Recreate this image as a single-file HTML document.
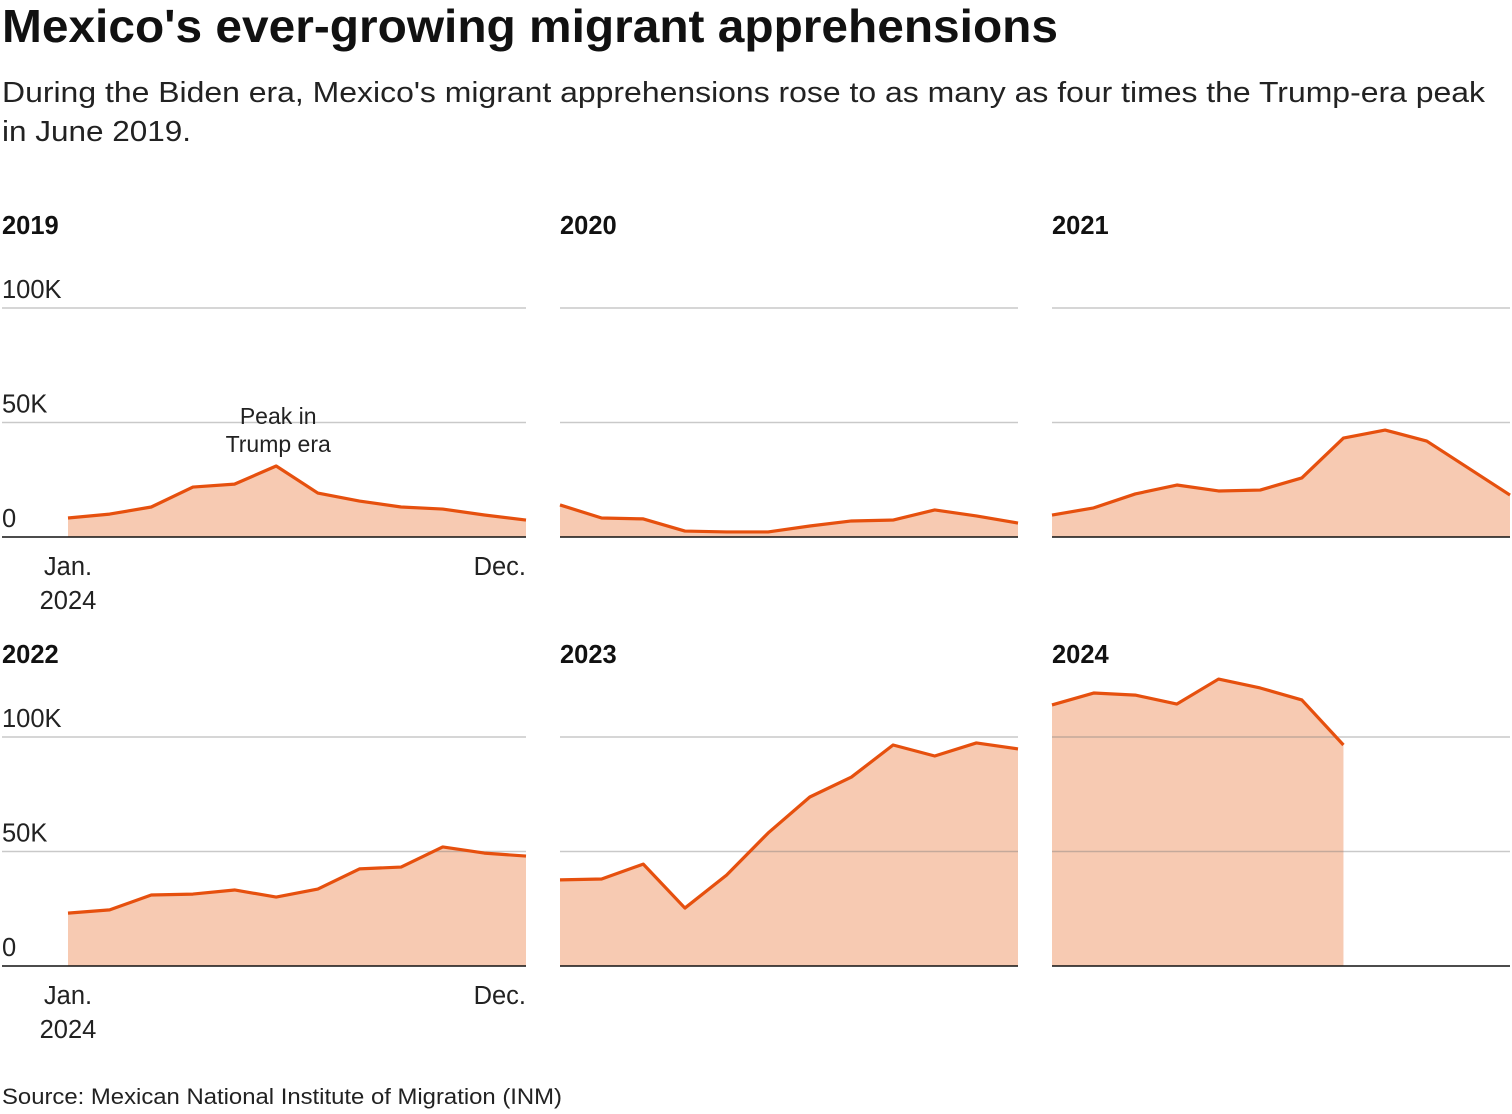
<!DOCTYPE html>
<html><head><meta charset="utf-8"><style>
html,body{margin:0;padding:0;background:#fff;width:1512px;height:1114px;overflow:hidden;font-family:"Liberation Sans",Arial,sans-serif;color:#111}
svg text{font-family:"Liberation Sans",Arial,sans-serif}
</style></head><body>
<svg id="chart" width="1512" height="1114" viewBox="0 0 1512 1114" xmlns="http://www.w3.org/2000/svg">
<text x="2" y="42" font-size="46" font-weight="bold" fill="#111" textLength="1056" lengthAdjust="spacingAndGlyphs">Mexico's ever-growing migrant apprehensions</text>
<text x="2" y="102" font-size="29" fill="#222" textLength="1483" lengthAdjust="spacingAndGlyphs">During the Biden era, Mexico's migrant apprehensions rose to as many as four times the Trump-era peak</text>
<text x="2" y="141" font-size="29" fill="#222" textLength="189" lengthAdjust="spacingAndGlyphs">in June 2019.</text>
<text x="2" y="1104" font-size="22.5" fill="#222" textLength="560" lengthAdjust="spacingAndGlyphs">Source: Mexican National Institute of Migration (INM)</text>
<g id="panels"></g>
</svg>
<script>
const years = ["2019","2020","2021","2022","2023","2024"];
const v2019 = [8.3,10,13.1,21.8,23.1,31,19.2,15.7,13.1,12.2,9.6,7.4];
const v2020 = [14,8.3,7.9,2.6,2.2,2.2,4.8,7,7.4,11.8,9.2,6.1];
const v2021 = [9.6,12.7,18.8,22.7,20.1,20.5,25.8,43.2,46.7,41.9,30.1,18.3];
const v2022 = [23.1,24.5,31,31.4,33.2,30.1,33.6,42.4,43.2,52,49.3,48];
const v2023 = [37.6,38,44.5,25.3,39.7,58.1,73.8,82.5,96.5,91.7,97.4,94.8];
const v2024 = [114,119.2,118.3,114.4,125.3,121.4,116.2,96.5];
const yTicks = [0,50,100];
const yTickLabels = ["0","50K","100K"];
const seriesList = [v2019,v2020,v2021,v2022,v2023,v2024];

const NS="http://www.w3.org/2000/svg";
const root=document.getElementById('panels');
function mk(tag,attrs,parent){const e=document.createElementNS(NS,tag);for(const k in attrs)e.setAttribute(k,attrs[k]);parent.appendChild(e);return e;}
const layout=[
 {gx0:2,dx0:68,dx1:526,base:537,ty:225,axis:true},
 {gx0:560,dx0:560,dx1:1018,base:537,ty:225},
 {gx0:1052,dx0:1052,dx1:1510,base:537,ty:225},
 {gx0:2,dx0:68,dx1:526,base:966,ty:654,axis:true},
 {gx0:560,dx0:560,dx1:1018,base:966,ty:654},
 {gx0:1052,dx0:1052,dx1:1510,base:966,ty:654}
];
layout.forEach((L,i)=>{
  const g=mk('g',{},root);
  
  
  const xS=m=>L.dx0+(L.dx1-L.dx0)*m/11;
  const yS=v=>L.base-v*229/100;
  const vals=seriesList[i];
  const t=mk('text',{x:L.gx0,y:L.ty+9,'font-size':25.5,'font-weight':'bold',fill:'#111'},g);
  t.textContent=years[i];
  
  
  let d='M'+xS(0)+','+L.base;
  vals.forEach((v,m)=>{d+=' L'+xS(m)+','+yS(v);});
  d+=' L'+xS(vals.length-1)+','+L.base+' Z';
  const a=mk('path',{d:d,fill:'#f7cab2'},g);
  
  
  yTicks.forEach((tv,k)=>{
    if(tv===0)return;
    const gl=mk('line',{x1:L.gx0,x2:L.dx1,y1:yS(tv),y2:yS(tv),stroke:'rgba(120,120,120,0.4)','stroke-width':1.5},g);
    
    
  });
  const bl=mk('line',{x1:L.gx0,x2:L.dx1,y1:L.base,y2:L.base,stroke:'#111','stroke-width':1.5},g);
  
  
  const ln=mk('polyline',{points:vals.map((v,m)=>xS(m)+','+yS(v)).join(' '),fill:'none',stroke:'#e6500e','stroke-width':3.2,'stroke-linejoin':'round'},g);
  
  
  if(L.axis){
    yTicks.forEach((tv,k)=>{
      const tl=mk('text',{x:2,y:yS(tv)-10,'font-size':25.5,fill:'#222'},g);
      tl.textContent=yTickLabels[k];
      
      
    });
    const j=mk('text',{x:68,y:L.base+38,'font-size':25.5,fill:'#222','text-anchor':'middle'},g);
    j.textContent='Jan.';
    
    
    const j2=mk('text',{x:68,y:L.base+72,'font-size':25.5,fill:'#222','text-anchor':'middle'},g);
    j2.textContent='2024';
    
    
    const dc=mk('text',{x:526,y:L.base+38,'font-size':25.5,fill:'#222','text-anchor':'end'},g);
    dc.textContent='Dec.';
    
    
  }
  if(i===0){
    const p1=mk('text',{x:xS(5)+2,y:424,'font-size':23,fill:'#222','text-anchor':'middle'},g);
    p1.textContent='Peak in';
    
    
    const p2=mk('text',{x:xS(5)+2,y:452,'font-size':23,fill:'#222','text-anchor':'middle'},g);
    p2.textContent='Trump era';
    
    
  }
});
</script>
</body></html>
